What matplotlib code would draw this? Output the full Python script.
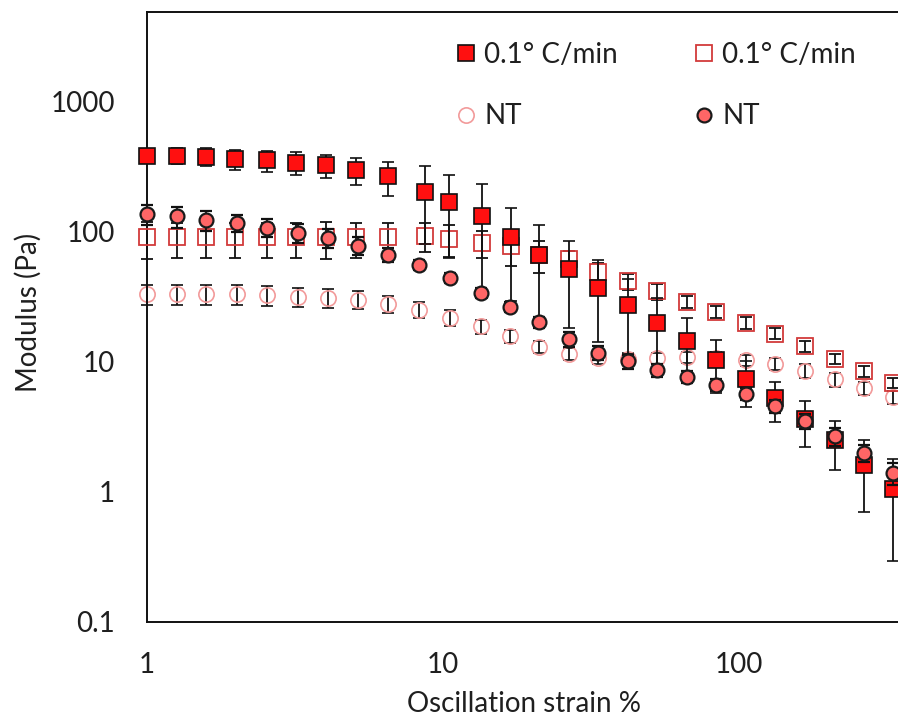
import matplotlib
matplotlib.use("Agg")
import matplotlib.pyplot as plt
from matplotlib.lines import Line2D

plt.rcParams['font.family'] = ['Lato', 'DejaVu Sans']

# ---------------- data ----------------
x_rate = [1.00, 1.26, 1.58, 1.99, 2.54, 3.19, 4.02, 5.08, 6.52, 8.69, 10.5, 13.5, 17.0,
          21.1, 26.7, 33.4, 42.2, 52.8, 66.7, 83.6, 105.6, 132.3, 167.1, 211, 264, 331]
x_nt = [1.00, 1.26, 1.58, 2.01, 2.54, 3.24, 4.09, 5.16, 6.52, 8.30, 10.6, 13.4, 16.8,
        21.1, 26.7, 33.4, 42.2, 52.8, 66.7, 83.6, 105.6, 132.3, 167.1, 211, 264, 331]

rate_gp = [384, 384, 377, 361, 354, 339, 322, 299, 266, 200, 168, 131, 90, 66.4, 51,
           37, 27.4, 19.8, 14.5, 10.2, 7.3, 5.2, 3.58, 2.47, 1.59, 1.04]
rate_gp_err = [30, 55, 60, 65, 65, 67, 66, 70, 77, 120, 106, 100, 61, 46, 33, 23, 16,
               11, 7, 4.5, 2.8, 1.8, 1.4, 1.0, 0.9, 0.75]

rate_gpp = [90, 90, 90, 90, 90, 90, 90, 90, 90, 93, 88, 82, 77, 66, 61, 49, 41.5, 34.6,
            28.9, 24.1, 19.8, 16.4, 13.1, 10.5, 8.4, 6.85]
rate_gpp_err = [29, 27, 27, 27, 27, 27, 29, 27, 27, 23, 24, 19, 23, 18, 10, 8, 6, 5, 3,
                2.4, 2, 1.6, 1.3, 1.0, 0.8, 0.6]

nt_gp = [137, 131, 122, 117, 107, 98, 89, 78, 66.4, 55.6, 44.2, 33.7, 26.4, 20.1, 14.9,
         11.7, 10.0, 8.6, 7.6, 6.64, 5.67, 4.54, 3.47, 2.66, 1.98, 1.39]
nt_gp_err = [24, 24, 22, 18, 17, 17, 15, 12, 8, 5, 4, 3, 2.5, 2, 2, 1.5, 1.3, 1.0, 0.8,
             0.7, 0.6, 0.5, 0.45, 0.43, 0.29, 0.27]

nt_gpp = [32.8, 32.8, 32.8, 32.8, 32.4, 31.6, 30.9, 29.9, 27.9, 25.1, 21.7, 18.6, 15.6,
          13.0, 11.5, 10.7, 10.5, 10.6, 10.8, 10.7, 10.2, 9.6, 8.5, 7.3, 6.2, 5.3]
nt_gpp_err = [5.7, 5.7, 5.7, 5.7, 5.7, 5.3, 5.0, 4.7, 4.2, 3.5, 3.0, 2.4, 1.8, 1.4, 1.2,
              1.1, 1.1, 1.1, 1.1, 1.1, 1.0, 1.0, 1.0, 0.9, 0.7, 0.6]

labels = ["0.1\u00b0 C/min", "NT", "0.1\u00b0 C/min", "NT"]
x_ticks = [1, 10, 100]
x_ticklabels = ["1", "10", "100"]
y_ticks = [0.1, 1, 10, 100, 1000]
y_ticklabels = ["0.1", "1", "10", "100", "1000"]

# ---------------- styles ----------------
txt = '#1f1f1f'
s_fsq = dict(marker='s', ms=11, mfc='#FF1010', mec='#111111', mew=1.2)
s_osq = dict(marker='s', ms=11, mfc='none', mec='#D23A3A', mew=1.3)
s_fci = dict(marker='o', ms=10, mfc='#FF6666', mec='#1a1a1a', mew=1.6)
s_oci = dict(marker='o', ms=11, mfc='none', mec='#F29A9A', mew=1.2)
eb = dict(ls='none', ecolor='#111111', elinewidth=1.3, capsize=4.6, capthick=1.3)

fig = plt.figure(figsize=(8.98, 7.25), dpi=100)
ax = fig.add_axes([147/898, (725-621.5)/725, 888/898, (621.5-12)/725])
ax.set_xscale('log')
ax.set_yscale('log')

series = [
    (x_nt, nt_gpp, nt_gpp_err, s_oci, 2),
    (x_rate, rate_gpp, rate_gpp_err, s_osq, 3),
    (x_rate, rate_gp, rate_gp_err, s_fsq, 4),
    (x_nt, nt_gp, nt_gp_err, s_fci, 5),
]
for xs, ys, es, st, z in series:
    c = ax.errorbar(xs, ys, yerr=es, zorder=z, **st, **eb)
    for art in c.get_children():
        art.set_clip_on(False)

ax.set_xlim(1, 1000)
ax.set_ylim(0.1, 4877)
ax.set_xticks(x_ticks)
ax.set_xticklabels(x_ticklabels)
ax.set_yticks(y_ticks)
ax.set_yticklabels(y_ticklabels)
ax.minorticks_off()
ax.tick_params(axis='both', length=0, labelsize=20, labelcolor=txt)
ax.tick_params(axis='y', pad=23)
ax.tick_params(axis='x', pad=22)
for sp in ['left', 'bottom', 'top']:
    ax.spines[sp].set_linewidth(1.4)
    ax.spines[sp].set_color('#111111')
ax.spines['right'].set_visible(False)

fig.text(28/898, 1 - 312/725, "Modulus (Pa)", rotation=90, ha='center', va='center',
         fontsize=20, color=txt)
fig.text(524/898, 1 - 704/725, "Oscillation strain %", ha='center', va='center',
         fontsize=20, color=txt)

h_fsq = Line2D([], [], ls='none', **s_fsq)
h_oci = Line2D([], [], ls='none', **s_oci)
h_osq = Line2D([], [], ls='none', **s_osq)
h_fci = Line2D([], [], ls='none', **s_fci)
leg = ax.legend([h_fsq, h_oci, h_osq, h_fci], labels, ncol=2, loc='upper left',
                bbox_to_anchor=(455/898, 1 - 42/725), bbox_transform=fig.transFigure,
                frameon=False, fontsize=20, handlelength=0.8, handletextpad=0.25,
                columnspacing=2.7, labelspacing=1.27, borderpad=0, borderaxespad=0)
for t in leg.get_texts():
    t.set_color(txt)

fig.savefig("out.png", dpi=100)
